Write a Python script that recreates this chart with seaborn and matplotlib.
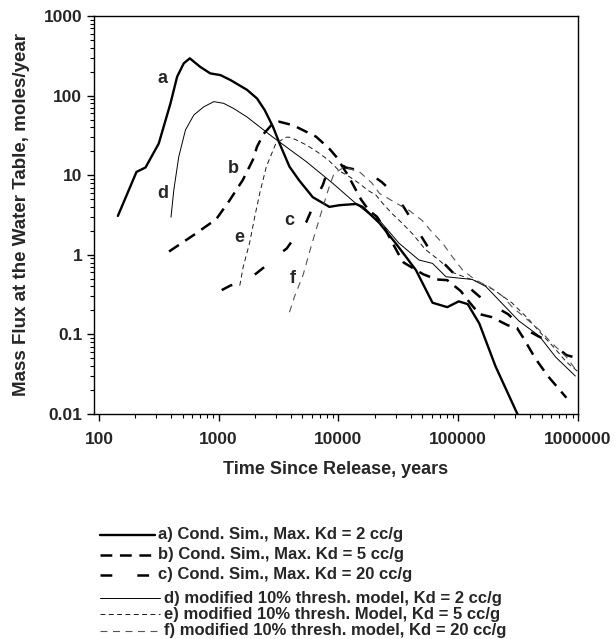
import matplotlib
matplotlib.use("Agg")
import matplotlib.pyplot as plt
import seaborn as sns
import pandas as pd
from matplotlib.ticker import LogLocator, FixedLocator, FixedFormatter, NullFormatter
from matplotlib.lines import Line2D

# ---------------- data ----------------
a_t = [144, 206, 245, 316, 396, 450, 511, 574, 620, 700, 851, 1034, 1253, 1726, 2090, 2420, 2840, 3225,
       3900, 4700, 6100, 8400, 10200, 14000, 15900, 22000, 30000, 36500, 44400, 61000, 81000, 101000,
       120000, 150000, 205000, 311000, 340000]
a_v = [3.08, 11.0, 12.5, 25, 80, 173, 254, 294, 267, 230, 190, 181, 157, 118, 92, 66, 40.6, 25,
       12.8, 8.6, 5.3, 4.0, 4.2, 4.35, 4.0, 2.5, 1.4, 0.95, 0.64, 0.25, 0.22, 0.26,
       0.24, 0.137, 0.0396, 0.0101, 0.0075]

b_t = [385, 611, 954, 1230, 1590, 1930, 2090, 2370, 2840, 3200, 4170, 6500, 8400, 9600, 12000, 14000,
       15500, 18000, 21000, 25000, 27000, 32000, 35000, 44000, 51000, 66000, 81000, 105000, 125000,
       150000, 190000, 260000, 310000, 350000, 440000, 560000, 800000]
b_v = [1.1, 1.75, 2.8, 4.8, 8.7, 15.6, 22.8, 33, 44.8, 47, 42.5, 30.5, 21.5, 17, 10, 6.5,
       4.9, 3.6, 3.0, 2.0, 1.6, 1.0, 0.8, 0.65, 0.57, 0.49, 0.48, 0.35, 0.25,
       0.18, 0.165, 0.13, 0.12, 0.09, 0.05, 0.03, 0.016]

c_t = [1060, 1250, 1700, 1900, 2400, 3000, 3700, 4600, 5400, 6200, 6600, 7400, 7900, 8600, 9600, 10300,
       11500, 14500, 18000, 23000, 28000, 35000, 40000, 47000, 55000, 72000, 90000, 110000, 150000,
       175000, 230000, 260000, 350000, 470000, 570000, 800000, 1000000]
c_v = [0.36, 0.41, 0.48, 0.53, 0.7, 0.95, 1.2, 1.9, 2.6, 4.2, 5.4, 7.5, 10, 12, 13.5, 14,
       12.5, 11.6, 10.6, 8.2, 6.2, 4.0, 2.9, 1.9, 1.3, 0.85, 0.6, 0.45, 0.3,
       0.26, 0.2, 0.18, 0.12, 0.094, 0.083, 0.055, 0.05]

d_t = [400, 422, 464, 528, 620, 748, 910, 1100, 1330, 1720, 2290, 2840, 5390, 8970, 14000, 19300,
       21800, 32000, 47000, 61000, 79000, 131000, 170000, 320000, 475000, 650000, 950000]
d_v = [2.97, 6.5, 17, 37, 57, 72, 84, 80, 69, 54, 38.6, 30, 14.8, 7.9, 4.4, 3.0,
       2.75, 1.4, 0.86, 0.78, 0.53, 0.49, 0.40, 0.148, 0.0955, 0.052, 0.03]

e_t = [1500, 1600, 1810, 2000, 2200, 2500, 3000, 3660, 3900, 4440, 5390, 6530, 8200, 10200, 12300,
       14900, 17500, 20600, 23500, 28000, 34000, 42000, 53000, 69000, 90000, 115000, 150000, 200000,
       280000, 380000, 500000, 650000, 800000, 1000000]
e_v = [0.41, 0.7, 1.4, 3.0, 5.9, 12.8, 25, 30, 30, 27.8, 24, 20, 15.6, 11.3, 9.6,
       7.9, 6.5, 5.6, 4.4, 3.3, 2.5, 1.8, 1.17, 0.86, 0.6, 0.52, 0.45, 0.36,
       0.25, 0.16, 0.1, 0.065, 0.045, 0.034]

f_t = [3900, 4300, 5070, 5900, 6960, 8200, 9200, 10800, 11200, 12500, 15000, 19000, 22000, 30000,
       39000, 50000, 61000, 74000, 89000, 109000, 140000, 180000, 236000, 283000, 365000, 475000,
       610000, 800000, 1000000]
f_v = [0.19, 0.3, 0.56, 1.26, 2.9, 6.5, 10.6, 12.2, 13, 12, 11, 8, 5.9, 4.5,
       3.6, 2.7, 1.9, 1.4, 0.95, 0.64, 0.48, 0.4, 0.3, 0.22, 0.16, 0.114,
       0.077, 0.052, 0.033]

legend_labels = ["a) Cond. Sim., Max. Kd = 2 cc/g",
                 "b) Cond. Sim., Max. Kd = 5 cc/g",
                 "c) Cond. Sim., Max. Kd = 20 cc/g",
                 "d) modified 10% thresh. model, Kd = 2 cc/g",
                 "e) modified 10% thresh. Model, Kd = 5 cc/g",
                 "f) modified 10% thresh. model, Kd = 20 cc/g"]
curve_letters = ["a", "b", "c", "d", "e", "f"]
x_ticks = [100, 1000, 10000, 100000, 1000000]
x_tick_labels = ["100", "1000", "10000", "100000", "1000000"]
y_ticks = [0.01, 0.1, 1, 10, 100, 1000]
y_tick_labels = ["0.01", "0.1", "1", "10", "100", "1000"]

# ---------------- style ----------------
sns.set_style("ticks")
plt.rcParams['font.family'] = ['Liberation Sans', 'DejaVu Sans']
plt.rcParams['font.weight'] = 'bold'
plt.rcParams['lines.scale_dashes'] = False

styles = [
    dict(color="black", linewidth=1.7, linestyle="-"),
    dict(color="black", linewidth=1.8, linestyle=(0, (8.5, 5.5))),
    dict(color="black", linewidth=1.8, linestyle=(0, (8.5, 18))),
    dict(color="black", linewidth=0.7, linestyle="-"),
    dict(color="#1a1a1a", linewidth=0.7, linestyle=(0, (3.5, 2.5))),
    dict(color="#555555", linewidth=0.8, linestyle=(0, (5, 4))),
]

fig = plt.figure(figsize=(6.16, 6.39), dpi=100)
ax = fig.add_axes([94 / 616, 1 - 414 / 639, 484 / 616, 398 / 639])

all_data = [(a_t, a_v), (b_t, b_v), (c_t, c_v), (d_t, d_v), (e_t, e_v), (f_t, f_v)]
for (t, v), st in zip(all_data, styles):
    df = pd.DataFrame({"t": t, "v": v})
    sns.lineplot(data=df, x="t", y="v", ax=ax, sort=False, estimator=None, **st)

ax.set_xscale("log")
ax.set_yscale("log")
ax.set_xlim(91.0, 1e6)
ax.set_ylim(0.01, 1000)

ax.xaxis.set_major_locator(FixedLocator(x_ticks))
ax.xaxis.set_major_formatter(FixedFormatter(x_tick_labels))
ax.yaxis.set_major_locator(FixedLocator(y_ticks))
ax.yaxis.set_major_formatter(FixedFormatter(y_tick_labels))
ax.xaxis.set_minor_locator(LogLocator(base=10, subs=range(2, 10), numticks=20))
ax.yaxis.set_minor_locator(LogLocator(base=10, subs=range(2, 10), numticks=20))
ax.xaxis.set_minor_formatter(NullFormatter())
ax.yaxis.set_minor_formatter(NullFormatter())

ax.tick_params(which="major", direction="out", length=5, width=1, labelsize=12.5, color="black")
ax.tick_params(which="minor", direction="out", length=3, width=0.8, color="black")
ax.tick_params(axis="x", which="major", pad=8)
for lab in ax.get_xticklabels() + ax.get_yticklabels():
    lab.set_fontweight("bold")
for sp in ax.spines.values():
    sp.set_linewidth(1.0)
    sp.set_color("black")
    sp.set_visible(True)

ax.set_xlabel("Time Since Release, years", fontsize=13, fontweight="bold")
ax.set_ylabel("Mass Flux at the Water Table, moles/year", fontsize=13.5, fontweight="bold")
ax.xaxis.set_label_coords(0.5, -0.118)
ax.yaxis.set_label_coords(-0.133, 0.5)

# curve letters
letter_pos = [(341, 166), (1334, 12.3), (3900, 2.66), (341, 5.97), (1494, 1.63), (4138, 0.497)]
for letter, (tx, ty) in zip(curve_letters, letter_pos):
    ax.text(tx, ty, letter, fontsize=13, fontweight="bold", ha="center", va="center")

# legend (drawn manually below the axes)
rows_y = [535, 555, 575, 598, 614, 631]
line_x = [(100, 155)] * 3 + [(100, 160)] * 3
text_x = [158] * 3 + [164] * 3
for lab, y, (x0, x1), tx, st in zip(legend_labels, rows_y, line_x, text_x, styles):
    fy = 1 - y / 639
    ln = Line2D([x0 / 616, x1 / 616], [fy, fy], transform=fig.transFigure, **st)
    fig.add_artist(ln)
    fig.text(tx / 616, fy, lab, fontsize=12, fontweight="bold", ha="left", va="center")

fig.savefig("out.png", dpi=100)
